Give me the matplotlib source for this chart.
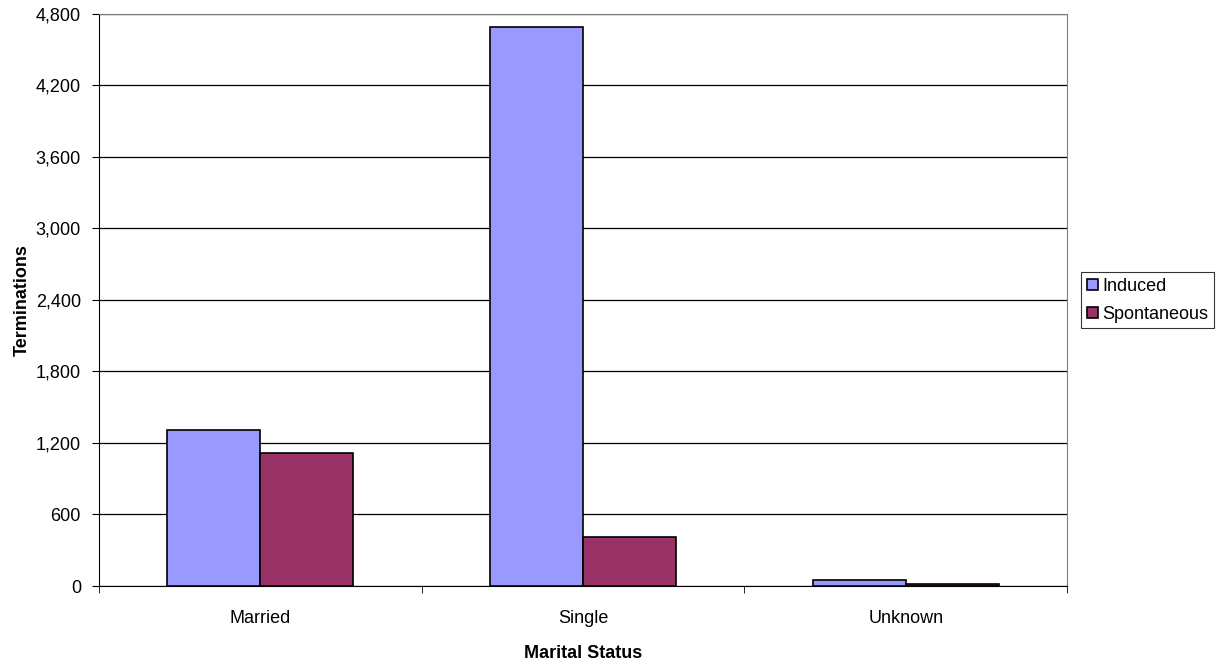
import matplotlib.pyplot as plt
import numpy as np

plt.rcParams["font.family"] = ["Liberation Sans", "DejaVu Sans"]

# Terminations by marital status
statuses = ["Married", "Single", "Unknown"]
induced = [1310, 4692, 50]
spontaneous = [1114, 414, 15]
y_ticks = [0, 600, 1200, 1800, 2400, 3000, 3600, 4200, 4800]

fig = plt.figure(figsize=(12.17, 6.62), dpi=100)
ax = fig.add_axes([0.0813, 0.1148, 0.7955, 0.8641])

x = np.arange(len(statuses))
width = 0.288
ax.bar(x - width / 2, induced, width, color="#9999FF", edgecolor="black",
       linewidth=1.2, label="Induced", zorder=3)
ax.bar(x + width / 2, spontaneous, width, color="#993366", edgecolor="black",
       linewidth=1.2, label="Spontaneous", zorder=3)

ax.set_xlim(-0.5, len(statuses) - 0.5)
ax.set_ylim(0, 4800)
ax.set_yticks(y_ticks)
ax.set_yticklabels([f"{v:,}" for v in y_ticks], fontsize=13)
ax.yaxis.grid(True, color="black", linewidth=0.9, zorder=0)

# category labels in the middle, tick marks on the boundaries
ax.set_xticks(x)
ax.set_xticklabels(statuses, fontsize=13)
ax.tick_params(axis="x", which="major", length=0, pad=17.5)
ax.set_xticks(np.arange(-0.5, len(statuses)), minor=True)
ax.tick_params(axis="x", which="minor", length=5, direction="out")
ax.tick_params(axis="y", length=5, direction="out", pad=8)

ax.spines["left"].set_color("black")
ax.spines["bottom"].set_color("black")
ax.spines["top"].set_color("#808080")
ax.spines["right"].set_color("#808080")

ax.set_xlabel("Marital Status", fontsize=13, fontweight="bold", labelpad=13)
ax.set_ylabel("Terminations", fontsize=13, fontweight="bold")
ax.yaxis.set_label_coords(-0.0706, 0.5)

leg = fig.legend(loc="upper left", bbox_to_anchor=(1081 / 1217, 1 - 272 / 662),
                 fontsize=13, frameon=True, fancybox=False, edgecolor="black",
                 handlelength=0.6, handleheight=0.6, handletextpad=0.25,
                 borderpad=0.32, labelspacing=0.6, borderaxespad=0)
leg.get_frame().set_linewidth(0.8)

fig.savefig("out.png", dpi=100)
